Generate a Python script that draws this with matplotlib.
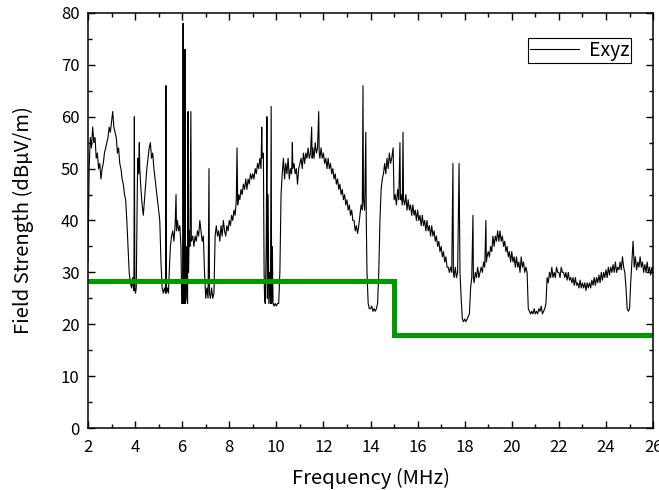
import matplotlib
matplotlib.use('Agg')
import matplotlib.pyplot as plt
from matplotlib.ticker import MultipleLocator

plt.rcParams['font.family'] = ['Noto Sans CJK JP', 'DejaVu Sans']

freq = [2.00, 2.05, 2.10, 2.15, 2.20, 2.25, 2.30, 2.35, 2.40, 2.45, 2.50, 2.55, 2.60, 2.65, 2.70, 2.75,
        2.80, 2.85, 2.90, 2.95, 3.00, 3.05, 3.10, 3.15, 3.20, 3.25, 3.30, 3.35, 3.40, 3.45, 3.50, 3.55,
        3.60, 3.65, 3.70, 3.75, 3.80, 3.85, 3.90, 3.93, 3.95, 3.97, 3.99, 4.02, 4.05, 4.08, 4.10, 4.12,
        4.15, 4.18, 4.20, 4.25, 4.30, 4.35, 4.40, 4.45, 4.50, 4.55, 4.60, 4.65, 4.70, 4.75, 4.80, 4.85,
        4.90, 4.95, 5.00, 5.05, 5.10, 5.15, 5.20, 5.25, 5.30, 5.31, 5.33, 5.38, 5.42, 5.45, 5.50, 5.55,
        5.60, 5.65, 5.70, 5.74, 5.76, 5.80, 5.85, 5.90, 5.95, 5.98, 6.02, 6.04, 6.06, 6.08, 6.10, 6.12,
        6.14, 6.18, 6.20, 6.23, 6.25, 6.27, 6.30, 6.33, 6.37, 6.39, 6.45, 6.50, 6.55, 6.60, 6.65, 6.70,
        6.75, 6.80, 6.85, 6.90, 6.95, 7.00, 7.05, 7.10, 7.14, 7.16, 7.20, 7.25, 7.30, 7.35, 7.40, 7.45,
        7.50, 7.55, 7.60, 7.65, 7.70, 7.75, 7.80, 7.85, 7.90, 7.95, 8.00, 8.05, 8.10, 8.15, 8.20, 8.25,
        8.30, 8.33, 8.36, 8.40, 8.45, 8.50, 8.55, 8.60, 8.65, 8.70, 8.75, 8.80, 8.85, 8.90, 8.95, 9.00,
        9.05, 9.10, 9.15, 9.20, 9.25, 9.30, 9.35, 9.38, 9.40, 9.45, 9.48, 9.50, 9.53, 9.57, 9.60, 9.62,
        9.65, 9.68, 9.72, 9.75, 9.78, 9.80, 9.83, 9.86, 9.90, 9.95, 10.00, 10.05, 10.10, 10.15, 10.20, 10.25,
        10.30, 10.35, 10.40, 10.45, 10.50, 10.55, 10.60, 10.65, 10.68, 10.70, 10.75, 10.80, 10.85, 10.90, 10.95, 11.00,
        11.05, 11.10, 11.15, 11.20, 11.25, 11.30, 11.35, 11.40, 11.45, 11.50, 11.52, 11.55, 11.60, 11.65, 11.70, 11.75,
        11.80, 11.82, 11.85, 11.90, 11.95, 12.00, 12.05, 12.10, 12.15, 12.20, 12.25, 12.30, 12.35, 12.40, 12.45, 12.50,
        12.55, 12.60, 12.65, 12.70, 12.75, 12.80, 12.85, 12.90, 12.95, 13.00, 13.05, 13.10, 13.15, 13.20, 13.25, 13.30,
        13.35, 13.40, 13.45, 13.50, 13.55, 13.60, 13.65, 13.68, 13.70, 13.75, 13.80, 13.82, 13.85, 13.90, 13.95, 14.00,
        14.05, 14.10, 14.15, 14.20, 14.25, 14.30, 14.35, 14.40, 14.45, 14.50, 14.55, 14.60, 14.65, 14.70, 14.75, 14.80,
        14.85, 14.90, 14.96, 15.00, 15.05, 15.10, 15.15, 15.20, 15.25, 15.27, 15.30, 15.35, 15.38, 15.40, 15.45, 15.50,
        15.55, 15.60, 15.65, 15.70, 15.75, 15.80, 15.85, 15.90, 15.95, 16.00, 16.05, 16.10, 16.15, 16.20, 16.25, 16.30,
        16.35, 16.40, 16.45, 16.50, 16.55, 16.60, 16.65, 16.70, 16.75, 16.80, 16.85, 16.90, 16.95, 17.00, 17.05, 17.10,
        17.15, 17.20, 17.25, 17.30, 17.35, 17.40, 17.45, 17.50, 17.52, 17.55, 17.60, 17.65, 17.70, 17.76, 17.80, 17.85,
        17.90, 17.95, 18.00, 18.05, 18.10, 18.15, 18.20, 18.25, 18.30, 18.35, 18.37, 18.40, 18.45, 18.50, 18.55, 18.60,
        18.65, 18.70, 18.75, 18.80, 18.85, 18.90, 18.92, 18.95, 19.00, 19.05, 19.10, 19.15, 19.20, 19.25, 19.30, 19.35,
        19.40, 19.45, 19.50, 19.55, 19.60, 19.65, 19.70, 19.75, 19.80, 19.85, 19.90, 19.95, 20.00, 20.05, 20.10, 20.15,
        20.20, 20.25, 20.30, 20.35, 20.40, 20.45, 20.50, 20.55, 20.60, 20.65, 20.70, 20.75, 20.80, 20.85, 20.90, 20.95,
        21.00, 21.05, 21.10, 21.15, 21.20, 21.25, 21.30, 21.35, 21.40, 21.45, 21.50, 21.55, 21.60, 21.65, 21.70, 21.75,
        21.80, 21.85, 21.90, 21.95, 22.00, 22.05, 22.10, 22.15, 22.20, 22.25, 22.30, 22.35, 22.40, 22.45, 22.50, 22.55,
        22.60, 22.65, 22.70, 22.75, 22.80, 22.85, 22.90, 22.95, 23.00, 23.05, 23.10, 23.15, 23.20, 23.25, 23.30, 23.35,
        23.40, 23.45, 23.50, 23.55, 23.60, 23.65, 23.70, 23.75, 23.80, 23.85, 23.90, 23.95, 24.00, 24.05, 24.10, 24.15,
        24.20, 24.25, 24.30, 24.35, 24.40, 24.45, 24.50, 24.55, 24.60, 24.65, 24.70, 24.75, 24.80, 24.85, 24.90, 24.95,
        25.00, 25.05, 25.10, 25.15, 25.20, 25.25, 25.30, 25.35, 25.40, 25.45, 25.50, 25.55, 25.60, 25.65, 25.70, 25.75,
        25.80, 25.85, 25.90, 25.95, 26.00]
exyz = [32, 50, 56, 54, 58, 55, 56, 52, 53, 50, 51, 48, 50, 51, 53, 54,
        55, 56, 58, 57, 59, 61, 58, 57, 56, 53, 54, 51, 50, 48, 47, 45,
        44, 40, 35, 30, 28, 27, 29, 27, 26.5, 60, 27, 26, 27, 40, 48, 52,
        49, 55, 50, 46, 43, 41, 44, 47, 50, 52, 54, 55, 52, 53, 50, 48,
        46, 44, 42, 40, 32, 27, 26, 27, 26, 66, 26, 27, 26, 30, 35, 37,
        38, 36, 39, 45, 38, 40, 38, 39, 35, 24, 24, 78, 24, 40, 24, 73,
        24, 35, 25, 24, 61, 30, 38, 35, 61, 36, 37, 35, 37, 36, 38, 37,
        40, 38, 36, 37, 30, 25, 27, 25, 50, 26, 25, 27, 25, 26, 37, 39,
        37, 38, 36, 39, 37, 40, 38, 37, 39, 38, 40, 39, 41, 40, 42, 41,
        44, 54, 43, 45, 44, 46, 45, 47, 46, 48, 46, 48, 47, 49, 48, 49,
        48, 50, 49, 51, 50, 52, 50, 58, 52, 53, 30, 25, 24, 35, 60, 25,
        45, 24, 30, 24, 62, 24, 35, 24, 23.5, 24, 23.5, 24, 24, 30, 45, 49,
        52, 48, 51, 49, 52, 48, 50, 49, 55, 50, 51, 49, 50, 47, 50, 51,
        52, 50, 53, 51, 53, 52, 54, 52, 53, 58, 52, 54, 52, 55, 53, 54,
        61, 53, 52, 54, 52, 53, 51, 52, 50, 52, 50, 51, 49, 50, 48, 49,
        47, 48, 46, 47, 45, 46, 44, 45, 43, 44, 42, 43, 41, 42, 40, 40,
        38, 39, 37.5, 39, 41, 43, 42, 66, 44, 42, 57, 40, 30, 24, 23, 23,
        23.5, 22.5, 23, 22.5, 23, 24, 30, 40, 46, 48, 49, 51, 49, 52, 50, 53,
        51, 52, 54, 44, 45, 43, 46, 44, 55, 44, 45, 43, 57, 44, 43, 45,
        42, 44, 42, 43, 41, 43, 41, 42, 40, 42, 40, 41, 39, 41, 39, 40,
        38, 40, 38, 39, 37, 39, 37, 38, 36, 37, 35, 36, 34, 35, 33, 34,
        32, 33, 31, 31, 30, 31, 30, 51, 30, 29, 31, 29, 30, 51, 30, 25,
        21, 20.5, 21, 20.5, 21, 21.5, 22, 27, 29, 41, 29, 28, 30, 29, 31, 29,
        30, 31, 30, 32, 31, 40, 32, 33, 34, 33, 35, 34, 37, 35, 37, 36,
        38, 36, 38, 36, 37, 35, 36, 34, 35, 33, 34, 32, 34, 32, 33, 31,
        33, 31, 32, 30, 33, 31, 32, 30, 31, 30, 23, 22.5, 22, 22.5, 22, 23,
        22, 22.5, 22, 23, 22.5, 23.5, 22, 22.5, 23, 24, 29, 28, 30, 29, 31, 29,
        30, 29, 31, 30, 30, 29, 31, 30, 30, 29, 30, 28.5, 30, 28.5, 29, 28,
        29, 27.5, 29, 27.5, 28, 27, 28.5, 27, 28, 27, 28, 26.5, 28, 27, 28, 27,
        28.5, 27.5, 29, 27.5, 29, 28, 29.5, 28, 30, 28.5, 30, 29, 30.5, 29, 31, 29.5,
        31, 30, 31.5, 30, 32, 30, 31, 30.5, 32, 30.5, 33, 31, 30, 27, 23, 22.5,
        23, 28, 32, 36, 31, 33, 30.5, 32, 31, 33, 31, 32, 30, 31.5, 30, 32,
        30, 31, 29.5, 31, 30]

# limit line
limit_f = [2, 15, 15, 26]
limit_db = [28.3, 28.3, 18, 18]

fig = plt.figure(figsize=(6.59, 4.90), dpi=100)
ax = fig.add_axes([0.1335, 0.1265, 0.8575, 0.847])

ax.plot(freq, exyz, color='black', lw=0.8, label='Exyz')
ax.plot(limit_f, limit_db, color='#009900', lw=3.6, solid_joinstyle='miter')

ax.set_xlim(2, 26)
ax.set_ylim(0, 80)
ax.xaxis.set_major_locator(MultipleLocator(2))
ax.xaxis.set_minor_locator(MultipleLocator(1))
ax.yaxis.set_major_locator(MultipleLocator(10))
ax.yaxis.set_minor_locator(MultipleLocator(5))
ax.tick_params(which='both', direction='in', top=True, right=True, labelsize=12, width=1)
ax.tick_params(axis='x', pad=8)
ax.tick_params(axis='y', pad=6)
ax.tick_params(which='major', length=5)
ax.tick_params(which='minor', length=3)
for s in ax.spines.values():
    s.set_linewidth(1.1)

ax.set_xlabel('Frequency (MHz)', fontsize=14.5)
ax.set_ylabel('Field Strength (dBμV/m)', fontsize=14.5)
ax.xaxis.set_label_coords(0.5, -0.097)
ax.yaxis.set_label_coords(-0.095, 0.5)

leg = ax.legend(loc='upper right', bbox_to_anchor=(0.961, 0.94), borderaxespad=0, fontsize=14,
                fancybox=False, edgecolor='black', handlelength=2.5, handletextpad=0.5,
                borderpad=0.1, framealpha=1)
leg.get_frame().set_linewidth(0.8)

fig.savefig('out.png', dpi=100)
